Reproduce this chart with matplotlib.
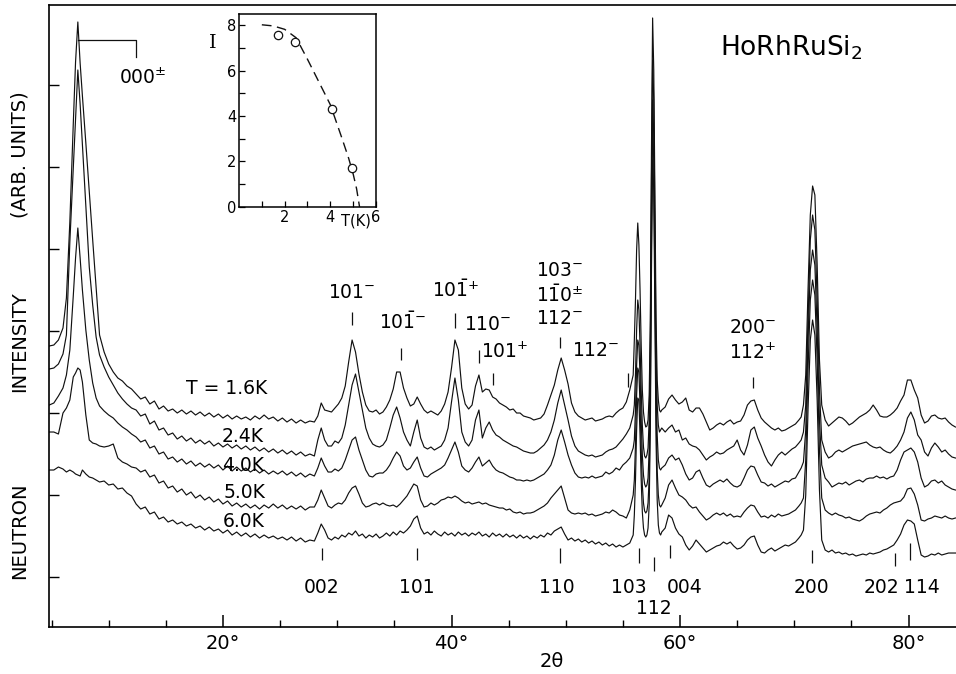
import matplotlib
matplotlib.use('Agg')
import matplotlib.pyplot as plt
from matplotlib.ticker import MultipleLocator

plt.rcParams['font.family'] = ['DejaVu Sans']
plt.rcParams['mathtext.fontset'] = 'dejavusans'

# scan angle 2theta (deg); finer steps over the sharp nuclear lines
two_theta = [
    4.8, 5.2, 5.6, 6.0, 6.3, 6.6, 6.9, 7.1, 7.3, 7.5, 7.7, 8.0, 8.3, 8.6, 8.9, 9.2, 9.6, 10.0, 10.4, 10.8, 11.2, 11.6, 12.0,
    12.4, 12.8, 13.2, 13.6, 14.0, 14.4, 14.8, 15.2, 15.6, 16.0, 16.4, 16.8, 17.2, 17.6, 18.0, 18.4, 18.8, 19.2, 19.6, 20.0,
    20.4, 20.8, 21.2, 21.6, 22.0, 22.4, 22.8, 23.2, 23.6, 24.0, 24.4, 24.8, 25.2, 25.6, 26.0, 26.4, 26.8, 27.2, 27.6,
    28.0, 28.3, 28.6, 28.9, 29.2, 29.5, 29.8, 30.1, 30.4, 30.7, 31.0, 31.3, 31.6, 31.9, 32.2, 32.5, 32.8, 33.1, 33.4, 33.7,
    34.0, 34.3, 34.6, 34.9, 35.2, 35.5, 35.8, 36.1, 36.4, 36.7, 37.0, 37.3, 37.6, 37.9, 38.2, 38.5, 38.8, 39.1, 39.4, 39.7,
    40.0, 40.3, 40.6, 40.9, 41.2, 41.5, 41.8, 42.1, 42.4, 42.7, 43.0, 43.3, 43.6, 43.9, 44.2, 44.5, 44.8, 45.1, 45.4, 45.7,
    46.0, 46.3, 46.6, 46.9, 47.2, 47.5, 47.8, 48.1, 48.4, 48.7, 49.0, 49.3, 49.6, 49.9, 50.2, 50.5, 50.8, 51.1, 51.4, 51.7,
    52.0, 52.3, 52.6, 52.9, 53.2, 53.5, 53.8, 54.1, 54.4, 54.7, 55.0, 55.3, 55.6, 55.9,
    56.0, 56.1, 56.2, 56.3, 56.4, 56.5, 56.6, 56.7, 56.8, 56.9, 57.0, 57.1, 57.2, 57.3, 57.4, 57.5, 57.6, 57.7, 57.8, 57.9,
    58.0, 58.1, 58.2, 58.3, 58.4,
    58.7, 59.0, 59.3, 59.6, 59.9, 60.2, 60.5, 60.8, 61.1, 61.4, 61.7, 62.0, 62.3, 62.6, 62.9, 63.2, 63.5, 63.8, 64.1, 64.4,
    64.7, 65.0, 65.3, 65.6, 65.9, 66.2, 66.5, 66.8, 67.1, 67.4, 67.7, 68.0, 68.3, 68.6, 68.9, 69.2, 69.5, 69.8, 70.1, 70.4,
    70.6, 70.8, 71.0, 71.2, 71.4, 71.6, 71.8, 72.0, 72.2, 72.4,
    72.7, 73.0, 73.3, 73.6, 73.9, 74.2, 74.5, 74.8, 75.1, 75.4, 75.7, 76.0, 76.3, 76.6, 76.9, 77.2, 77.5, 77.8, 78.1, 78.4,
    78.7, 79.0, 79.3, 79.6, 79.9, 80.2, 80.5, 80.8, 81.1, 81.4, 81.7, 82.0, 82.3, 82.6, 82.9, 83.2, 83.5, 83.8, 84.1,
]

# intensity (arb. units), traces stacked as printed
I_16K = [
    281, 282, 287, 299, 329, 405, 503, 565, 605, 564, 531, 484, 435, 387, 339, 292, 275, 263, 255, 249, 246, 241, 238,
    233, 228, 230, 223, 226, 218, 221, 216, 218, 214, 217, 213, 216, 212, 215, 211, 214, 210, 213, 209, 212, 208, 211,
    208, 210, 207, 211, 208, 212, 208, 210, 206, 209, 205, 208, 204, 207, 204, 206,
    205, 211, 224, 217, 216, 215, 219, 223, 229, 241, 265, 287, 275, 253, 235, 222, 216, 215, 217, 213,
    215, 220, 227, 238, 255, 255, 239, 229, 221, 223, 230, 223, 217, 214, 216, 214, 212, 216, 223, 235,
    259, 287, 277, 239, 223, 218, 222, 241, 252, 235, 238, 237, 230, 228, 224, 222, 220, 217, 218, 214,
    214, 211, 210, 209, 207, 208, 209, 213, 222, 232, 242, 257, 269, 257, 243, 224, 215, 211, 209, 207,
    208, 209, 206, 207, 208, 210, 211, 210, 214, 217, 219, 225, 237, 252,
    287, 327, 377, 404, 382, 337, 282, 237, 215, 205, 200, 201, 207, 232, 307, 477, 609, 557, 427, 307,
    247, 227, 217, 215, 217,
    220, 228, 232, 227, 223, 225, 229, 217, 215, 219, 219, 213, 205, 197, 199, 202, 204, 202, 205, 207,
    203, 205, 206, 212, 222, 226, 227, 217, 209, 205, 202, 199, 197, 199, 196, 197, 199, 201, 203, 207,
    210, 222, 252, 337, 412, 441, 432, 362, 267, 222,
    207, 201, 204, 207, 210, 209, 206, 202, 204, 207, 210, 212, 214, 217, 222, 217, 211, 210, 210, 212,
    215, 219, 226, 232, 247, 247, 237, 229, 212, 204, 206, 211, 212, 209, 208, 209, 205, 202, 200,
]
I_24K = [
    258, 259, 263, 273, 292, 385, 459, 507, 557, 523, 482, 422, 360, 322, 290, 272, 260, 250, 242, 234, 228, 223, 219,
    217, 211, 213, 203, 206, 197, 199, 192, 194, 188, 191, 186, 189, 184, 187, 183, 186, 181, 184, 180, 183, 179, 182,
    178, 181, 177, 180, 176, 179, 175, 178, 174, 177, 173, 176, 172, 175, 171, 173,
    171, 187, 199, 187, 181, 181, 186, 184, 189, 202, 222, 242, 253, 235, 217, 199, 189, 183, 181, 180,
    182, 187, 199, 212, 220, 209, 195, 187, 181, 195, 207, 189, 180, 178, 180, 177, 179, 181, 187, 199,
    225, 249, 227, 195, 185, 181, 187, 207, 217, 189, 199, 205, 197, 192, 190, 187, 185, 183, 181, 180,
    178, 176, 175, 174, 174, 176, 179, 182, 187, 195, 207, 224, 237, 222, 207, 191, 181, 176, 174, 172,
    171, 172, 170, 171, 172, 175, 177, 178, 180, 184, 188, 193, 199, 212,
    222, 252, 297, 327, 317, 282, 237, 202, 180, 171, 169, 172, 179, 207, 287, 447, 567, 527, 397, 277,
    222, 202, 195, 197, 199,
    195, 199, 202, 195, 197, 187, 189, 183, 181, 180, 177, 172, 167, 170, 172, 175, 173, 174, 177, 179,
    181, 187, 177, 172, 182, 197, 200, 189, 181, 172, 165, 161, 167, 172, 175, 172, 175, 178, 180, 184,
    187, 195, 222, 307, 387, 412, 397, 327, 237, 187,
    175, 169, 171, 175, 177, 175, 177, 179, 181, 182, 183, 184, 185, 182, 180, 179, 180, 177, 175, 174,
    177, 181, 187, 195, 209, 215, 207, 192, 187, 175, 171, 179, 184, 180, 175, 177, 173, 170, 169,
]
I_40K = [
    222, 224, 231, 239, 252, 277, 331, 369, 399, 369, 337, 297, 267, 244, 229, 221, 216, 212, 209, 204, 200, 197, 193,
    190, 185, 187, 179, 181, 173, 175, 168, 170, 165, 168, 163, 166, 161, 164, 160, 163, 159, 162, 157, 161, 156, 160,
    156, 159, 155, 158, 154, 157, 153, 156, 153, 156, 152, 155, 151, 154, 150, 153,
    151, 159, 169, 161, 155, 155, 158, 156, 159, 167, 177, 187, 190, 177, 167, 157, 151, 150, 153, 154,
    154, 157, 162, 169, 175, 171, 161, 157, 159, 165, 170, 159, 151, 150, 153, 155, 157, 159, 162, 169,
    177, 185, 175, 161, 157, 155, 159, 165, 170, 161, 164, 167, 161, 157, 155, 154, 152, 150, 149, 147,
    147, 146, 147, 146, 147, 149, 151, 153, 157, 162, 172, 187, 197, 185, 172, 162, 154, 150, 149, 150,
    149, 151, 149, 150, 151, 155, 153, 155, 159, 157, 162, 165, 169, 179,
    187, 217, 262, 287, 282, 252, 207, 172, 152, 143, 140, 142, 149, 177, 257, 417, 527, 492, 367, 247,
    192, 167, 159, 157, 159,
    162, 169, 172, 167, 169, 162, 153, 147, 149, 155, 157, 149, 142, 140, 143, 145, 147, 145, 148, 144,
    141, 140, 142, 149, 157, 161, 160, 152, 145, 144, 141, 143, 140, 142, 144, 146, 145, 148, 149, 155,
    159, 165, 197, 287, 357, 377, 362, 297, 207, 162,
    149, 145, 140, 142, 144, 143, 145, 142, 144, 146, 147, 145, 148, 149, 149, 151, 149, 150, 148, 150,
    151, 157, 167, 175, 177, 179, 175, 165, 149, 140, 142, 146, 147, 144, 146, 142, 140, 138, 137,
]
I_50K = [
    195, 195, 193, 214, 219, 227, 250, 254, 259, 257, 245, 212, 187, 184, 183, 181, 180, 181, 183, 169, 165, 163, 160,
    159, 155, 157, 150, 152, 144, 146, 139, 141, 135, 138, 132, 135, 129, 132, 127, 130, 125, 128, 123, 126, 121, 124,
    120, 123, 119, 122, 118, 122, 119, 123, 119, 122, 118, 121, 118, 121, 117, 120,
    120, 127, 137, 129, 121, 119, 122, 124, 123, 127, 134, 139, 141, 133, 124, 120, 121, 123, 124, 122,
    124, 122, 121, 122, 120, 123, 127, 131, 137, 143, 141, 127, 120, 121, 124, 122, 124, 127, 128, 130,
    129, 131, 129, 126, 124, 125, 123, 124, 125, 123, 124, 122, 121, 120, 119, 119, 117, 118, 115, 114,
    115, 113, 114, 114, 115, 117, 119, 121, 124, 129, 133, 137, 141, 129, 117, 114, 113, 114, 113, 114,
    112, 113, 111, 112, 113, 115, 114, 117, 115, 112, 111, 109, 117, 132,
    147, 182, 232, 259, 255, 222, 177, 142, 124, 116, 114, 116, 124, 149, 227, 387, 499, 467, 337, 217,
    157, 132, 122, 120, 122,
    129, 142, 147, 139, 132, 130, 127, 122, 119, 120, 115, 111, 107, 109, 112, 114, 112, 114, 111, 113,
    110, 111, 110, 115, 119, 122, 121, 115, 110, 111, 109, 112, 110, 113, 111, 112, 113, 115, 117, 121,
    124, 129, 167, 257, 327, 347, 332, 267, 177, 129,
    117, 114, 112, 114, 112, 111, 109, 110, 108, 107, 106, 108, 111, 113, 114, 115, 114, 117, 119, 122,
    124, 125, 126, 130, 138, 139, 133, 122, 107, 106, 108, 109, 111, 110, 109, 111, 109, 108, 109,
]
I_60K = [
    157, 157, 160, 158, 155, 157, 155, 153, 152, 151, 157, 153, 150, 149, 147, 145, 146, 142, 143, 138, 139, 134, 131,
    123, 118, 120, 113, 115, 108, 110, 105, 107, 103, 105, 101, 103, 99, 101, 97, 100, 96, 98, 94, 97, 92, 95,
    91, 94, 90, 93, 89, 92, 89, 91, 88, 90, 87, 90, 86, 89, 85, 87,
    86, 94, 103, 97, 89, 87, 90, 88, 92, 90, 94, 92, 96, 91, 93, 89, 92, 90, 93, 89,
    91, 94, 91, 95, 92, 96, 94, 97, 101, 108, 111, 99, 93, 95, 92, 96, 93, 91, 95, 92,
    94, 91, 95, 92, 94, 91, 94, 92, 95, 91, 93, 90, 94, 91, 93, 90, 93, 90, 92, 89,
    92, 89, 91, 88, 91, 89, 92, 90, 94, 92, 96, 98, 100, 93, 87, 89, 86, 88, 85, 87,
    84, 86, 83, 85, 82, 84, 81, 83, 80, 82, 80, 82, 84, 92,
    112, 147, 197, 229, 227, 192, 147, 115, 99, 92, 90, 92, 99, 122, 197, 357, 467, 437, 307, 187,
    127, 102, 94, 92, 95,
    99, 112, 109, 99, 93, 90, 82, 77, 81, 87, 83, 79, 75, 77, 79, 81, 82, 85, 83, 85,
    81, 78, 79, 82, 87, 90, 91, 82, 75, 74, 77, 79, 76, 78, 80, 82, 81, 83, 85, 89,
    92, 97, 132, 217, 287, 307, 292, 227, 137, 87,
    77, 75, 77, 74, 75, 73, 74, 72, 73, 71, 72, 73, 72, 74, 73, 74, 75, 77, 78, 80,
    82, 87, 93, 102, 107, 106, 103, 87, 72, 70, 71, 73, 72, 74, 72, 73, 74, 74, 74,
]
traces = [I_16K, I_24K, I_40K, I_50K, I_60K]
assert all(len(t) == len(two_theta) for t in traces), [len(t) for t in traces] + [len(two_theta)]

temp_labels = ['T = 1.6K', '2.4K', '4.0K', '5.0K', '6.0K']
temp_x = [20.3, 21.75, 21.75, 21.85, 21.85]
temp_y = [239, 191, 162, 135, 106]

# magnetic satellites: label, text pos, marker pos
mag_text = [r'$101^{-}$', r'$10\bar{1}^{-}$', r'$10\bar{1}^{+}$', r'$110^{-}$', r'$101^{+}$',
            r'$103^{-}$', r'$1\bar{1}0^{\pm}$', r'$112^{-}$', r'$112^{-}$', r'$200^{-}$', r'$112^{+}$']
mag_tx = [31.3, 35.7, 40.4, 43.2, 44.7, 49.5, 49.5, 49.5, 52.6, 66.4, 66.4]
mag_ty = [335, 305, 337, 303, 275, 357, 332, 309, 277, 300, 274]
mag_pos = [31.3, 35.57, 40.3, 42.4, 43.62, 49.48, 55.43, 66.37]
mag_lo = [302, 267, 299, 264, 242, 279, 240, 239]
mag_hi = [315, 279, 314, 277, 254, 290, 254, 250]

# nuclear reflections
nuc_text = ['002', '101', '110', '103', '112', '004', '200', '202', '114']
nuc_pos = [28.66, 36.97, 49.48, 56.4, 57.7, 59.1, 71.53, 78.8, 80.1]
nuc_lo = [67, 67, 64, 64, 56, 69, 64, 61, 67]
nuc_hi = [79, 79, 79, 79, 70, 82, 77, 74, 84]
nuc_tx = [28.66, 36.97, 49.2, 55.5, 57.7, 60.4, 71.5, 77.6, 81.2]
nuc_ty = [40, 40, 40, 40, 19, 40, 40, 40, 40]

# inset: integrated 000+- intensity vs temperature
ins_T = [1.7, 2.46, 4.06, 4.97]
ins_I = [7.56, 7.27, 4.29, 1.70]
fit_T = [1.0, 1.5, 2.0, 2.5, 3.0, 3.5, 4.0, 4.5, 4.8, 5.0, 5.15, 5.28]
fit_I = [8.02, 7.97, 7.82, 7.45, 6.5, 5.5, 4.5, 3.05, 2.15, 1.45, 0.8, 0.0]

ink = '#111111'
fig = plt.figure(figsize=(9.56, 6.74), dpi=100)
ax = fig.add_axes([0.0513, 0.0697, 0.9487, 0.9229])
for ys in traces:
    ax.plot(two_theta, ys, color=ink, lw=0.85)
ax.set_xlim(4.78, 84.15)
ax.set_ylim(0, 622)

ax.set_xticks([20, 40, 60, 80])
ax.set_xticklabels(['20°', '40°', '60°', '80°'])
ax.xaxis.set_minor_locator(MultipleLocator(5))
ax.set_yticks([50, 132, 214, 296, 378, 460, 542])
ax.tick_params(axis='x', which='major', direction='in', length=9, width=1.1, labelsize=14, pad=5)
ax.tick_params(axis='x', which='minor', direction='in', length=5, width=1.0)
ax.tick_params(axis='y', direction='in', length=7, width=1.0, labelleft=False)
ax.spines['right'].set_visible(False)
for s in ['left', 'bottom', 'top']:
    ax.spines[s].set_linewidth(1.2)

for lab, x, y in zip(temp_labels, temp_x, temp_y):
    ax.text(x, y, lab, fontsize=13.5, ha='center', va='center')
for lab, x, y in zip(mag_text, mag_tx, mag_ty):
    ax.text(x, y, lab, fontsize=13.5, ha='center', va='center')
ax.vlines(mag_pos, mag_lo, mag_hi, color=ink, lw=0.9)
for lab, x, y in zip(nuc_text, nuc_tx, nuc_ty):
    ax.text(x, y, lab, fontsize=13.5, ha='center', va='center')
ax.vlines(nuc_pos, nuc_lo, nuc_hi, color=ink, lw=0.9)

ax.plot([7.35, 12.39, 12.39], [587, 587, 570], color=ink, lw=0.9)
ax.text(13.0, 549, r'$000^{\pm}$', fontsize=13.5, ha='center', va='center')
ax.text(63.5, 579, r'HoRhRuSi$_2$', fontsize=19, ha='left', va='center')

# y label words are spread out as in the print
fig.text(0.021, 1 - 531 / 674, 'NEUTRON', rotation=90, fontsize=14, ha='center', va='center')
fig.text(0.021, 1 - 342 / 674, 'INTENSITY', rotation=90, fontsize=14, ha='center', va='center')
fig.text(0.021, 1 - 155 / 674, '(ARB. UNITS)', rotation=90, fontsize=14, ha='center', va='center')
fig.text(0.577, 0.018, '2θ', fontsize=14, ha='center', va='center')

axi = fig.add_axes([0.250, 0.693, 0.1433, 0.2864])
axi.plot(fit_T, fit_I, color=ink, lw=1.0, dashes=(7, 4))
axi.plot(ins_T, ins_I, 'o', mfc='white', mec=ink, ms=6, mew=0.9)
axi.set_xlim(0, 6)
axi.set_ylim(0, 8.5)
axi.set_xticks([2, 4, 6])
axi.set_xticks([1, 3, 5], minor=True)
axi.set_yticks([0, 2, 4, 6, 8])
axi.set_yticks([1, 3, 5, 7], minor=True)
axi.tick_params(which='both', direction='in', length=4, width=0.9, labelsize=10.5, pad=2)
for s in axi.spines.values():
    s.set_linewidth(1.1)
axi.text(-0.19, 0.85, 'I', transform=axi.transAxes, fontsize=14, family='DejaVu Serif',
         ha='center', va='center')
axi.text(0.85, -0.075, 'T(K)', transform=axi.transAxes, fontsize=10.5, ha='center', va='center')

fig.savefig('out.png', dpi=100)
